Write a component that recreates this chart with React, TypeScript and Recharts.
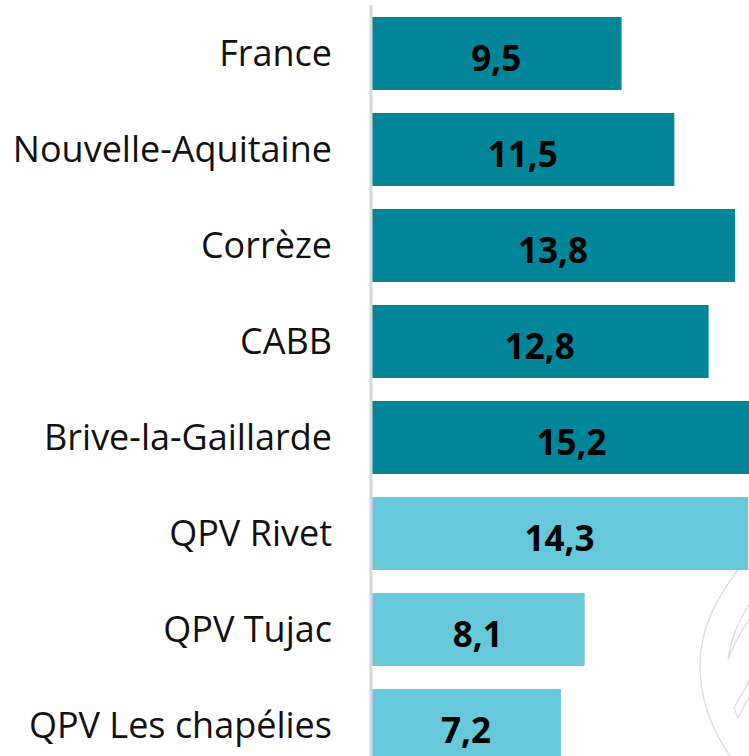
import { BarChart, Bar, XAxis, YAxis, Cell, LabelList } from 'recharts';

const categories = [
  'France',
  'Nouvelle-Aquitaine',
  'Corrèze',
  'CABB',
  'Brive-la-Gaillarde',
  'QPV Rivet',
  'QPV Tujac',
  'QPV Les chapélies',
];
const values = [9.5, 11.5, 13.8, 12.8, 15.2, 14.3, 8.1, 7.2];
const isQpv = [false, false, false, false, false, true, true, true];

const DARK = '#008599';
const LIGHT = '#66C8D8';
const FONT = '"Open Sans", "Noto Sans", sans-serif';

const data = categories.map((name, i) => ({ name, value: values[i], qpv: isQpv[i] }));

const fmt = (v: unknown) => Number(v).toFixed(1).replace('.', ',');

// value label drawn in the middle of the bar, a bit below centre like the original
function ValueLabel(props: any) {
  const { x, y, width, height, value } = props;
  return (
    <text
      x={Number(x) + Number(width) / 2}
      y={Number(y) + Number(height) / 2 + 4}
      textAnchor="middle"
      dominantBaseline="central"
      fill="#000"
      fontSize={35}
      fontWeight={700}
      fontFamily={FONT}
    >
      {fmt(value)}
    </text>
  );
}

// faint logo outline in the lower right corner (decoration only)
function Watermark() {
  return (
    <svg width={749} height={756} style={{ position: 'absolute', left: 0, top: 0 }}>
      <g fill="none" stroke="#dcdcdc" strokeWidth={1.3}>
        <path d="M738 570 C715 600 700 630 700 665 C700 700 712 730 730 756" />
        <path d="M752 600 C740 618 730 640 728 660 C735 640 745 625 752 615" />
        <path d="M752 675 C745 690 738 700 734 708 L738 718 C742 710 748 700 752 692" />
      </g>
    </svg>
  );
}

export default function App() {
  return (
    <div style={{ position: 'fixed', left: 0, top: 0, width: 749, height: 756, overflow: 'hidden', background: '#fff' }}>
      <Watermark />
      <div style={{ position: 'absolute', left: 0, top: 0 }}>
        <BarChart
          width={793}
          height={773}
          data={data}
          layout="vertical"
          margin={{ top: 5, right: 0, bottom: 0, left: 0 }}
        >
          <XAxis type="number" domain={[0, 16]} hide />
          <YAxis
            type="category"
            dataKey="name"
            width={371}
            tickLine={false}
            tickSize={0}
            tickMargin={39}
            axisLine={{ stroke: '#d9d9d9', strokeWidth: 3 }}
            tick={{ fill: '#111', fontSize: 36, fontFamily: FONT }}
            interval={0}
          />
          <Bar dataKey="value" barSize={73} isAnimationActive={false}>
            {data.map((d, i) => (
              <Cell key={i} fill={d.qpv ? LIGHT : DARK} />
            ))}
            <LabelList dataKey="value" content={ValueLabel} />
          </Bar>
        </BarChart>
      </div>
    </div>
  );
}
